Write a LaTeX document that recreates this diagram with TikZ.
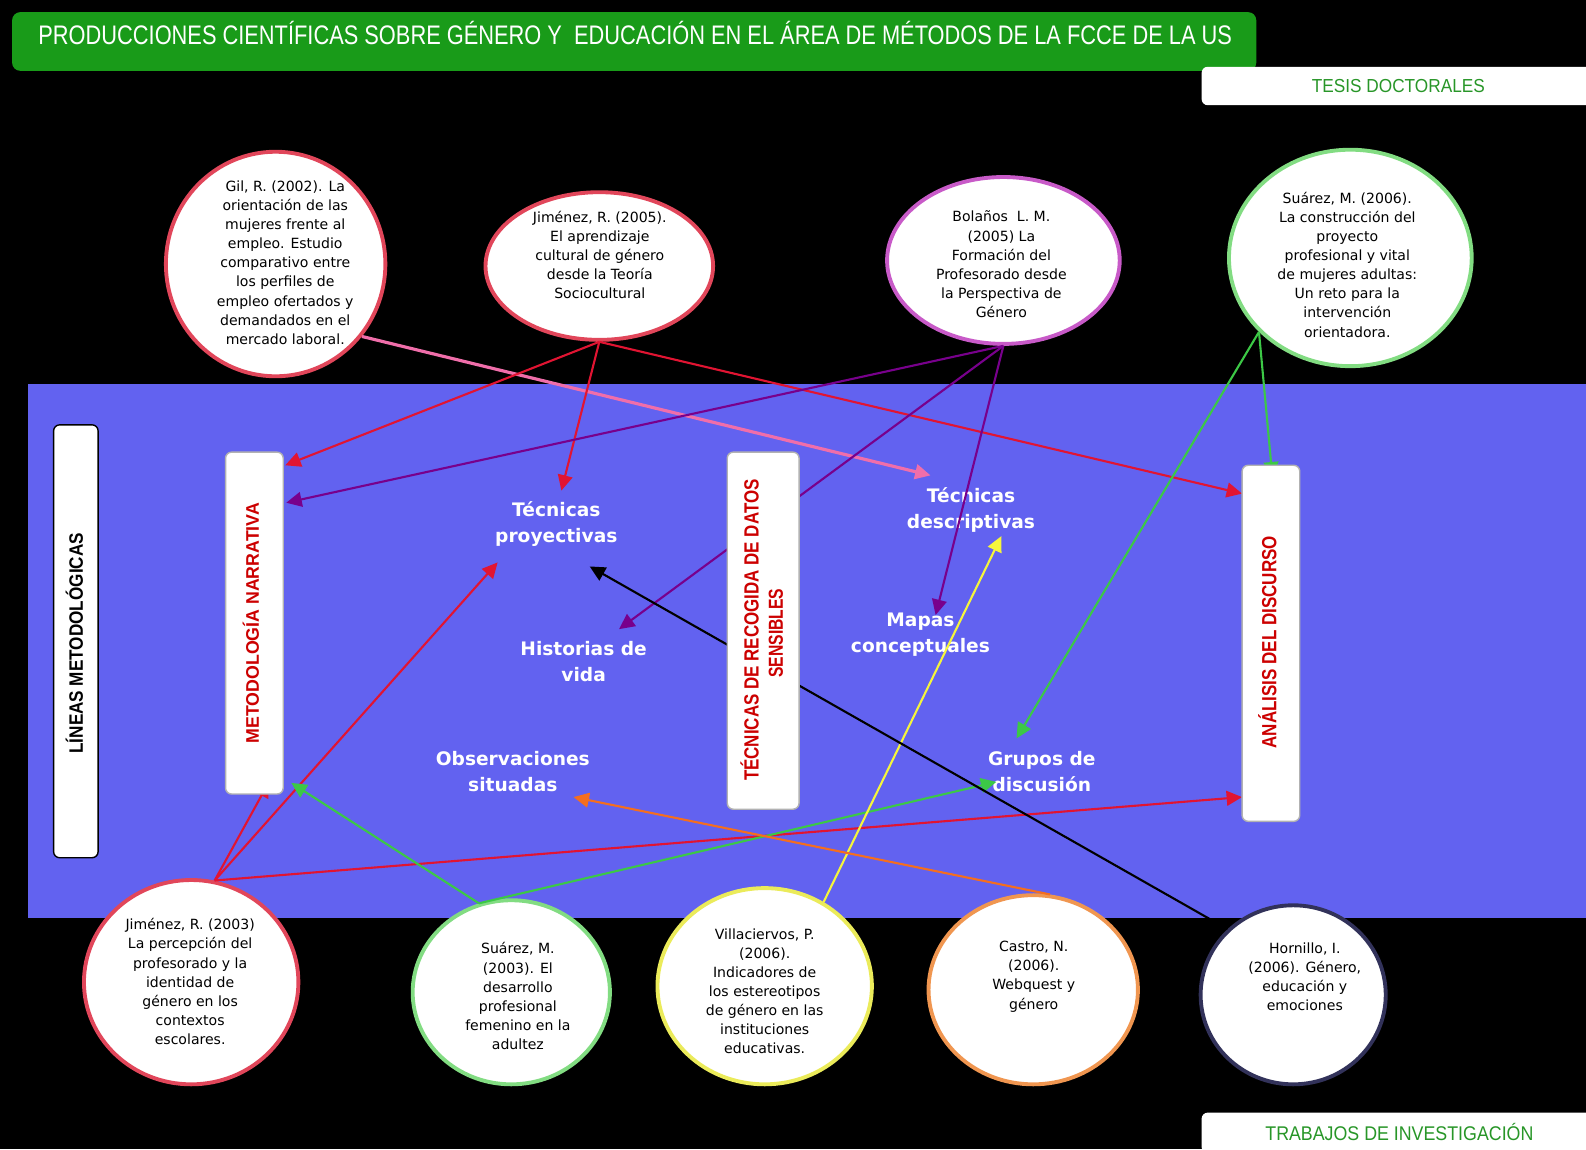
\documentclass[tikz,border=0pt]{standalone}
\usepackage{fontspec}
\usepackage{graphicx}
\setmainfont{DejaVu Sans}
\newfontfamily\libsans{Liberation Sans}
\usetikzlibrary{shapes.geometric,arrows.meta}
\newlength{\pxu}\setlength{\pxu}{0.010115cm}
\definecolor{bandblue}{RGB}{98,98,240}
\definecolor{titlegreen}{RGB}{25,155,25}
\definecolor{tgreen}{RGB}{40,150,40}
\definecolor{redtxt}{RGB}{204,0,0}
\definecolor{cred}{RGB}{225,20,50}
\definecolor{cpink}{RGB}{240,110,170}
\definecolor{cpurple}{RGB}{120,0,140}
\definecolor{cgreen}{RGB}{60,200,70}
\definecolor{cyellow}{RGB}{245,245,60}
\definecolor{corange}{RGB}{245,110,30}
\definecolor{bred}{RGB}{225,70,90}
\definecolor{bpurple}{RGB}{200,90,200}
\definecolor{bgreen}{RGB}{130,220,130}
\definecolor{byellow}{RGB}{235,235,90}
\definecolor{borange}{RGB}{240,150,80}
\definecolor{bdark}{RGB}{50,50,90}
\begin{document}
\begin{tikzpicture}[x=0.010115cm,y=-0.010115cm,
  ell/.style={ellipse,fill=white,line width=1.1pt,inner sep=0pt},
  etext/.style={font=\fontsize{4.0pt}{5.45pt}\selectfont,align=center,text=black,inner sep=0pt},
  wlabel/.style={font=\fontsize{5.3pt}{7.4pt}\selectfont\bfseries,align=center,text=white,inner sep=0pt},
  vbox/.style={fill=white,draw=gray!60,line width=0.4pt,rounded corners=6\pxu,inner sep=0pt},
  hbox/.style={fill=white,rounded corners=6\pxu,inner sep=0pt},
  conn/.style={line width=0.6pt,-{Triangle[length=4.4pt,width=4.2pt]}},
  vtext/.style={rotate=90,inner sep=0pt}]
\useasboundingbox (0,0) rectangle (1568,1136);
\fill[black] (0,0) rectangle (1568,1136);
% blue band
\fill[bandblue] (28,380) rectangle (1568,908);
% title
\node[fill=titlegreen,rounded corners=8\pxu,inner sep=0pt,minimum width=1230\pxu,minimum height=58\pxu] (titlebox) at (627,41) {};
\node[inner sep=0pt,text=white] (titletxt) at (628,32.5) {\resizebox{1180\pxu}{23\pxu}{\libsans PRODUCCIONES CIENTÍFICAS SOBRE GÉNERO Y\ \ EDUCACIÓN EN EL ÁREA DE MÉTODOS DE LA FCCE DE LA US}};
% side labels
\node[hbox,minimum width=400\pxu,minimum height=38\pxu] (tesisbox) at (1388,85) {};
\node[inner sep=0pt,text=tgreen] (tesistxt) at (1382.5,85.5) {\resizebox{171\pxu}{13\pxu}{\libsans TESIS DOCTORALES}};
\node[hbox,minimum width=400\pxu,minimum height=40\pxu] (trabbox) at (1388,1120) {};
\node[inner sep=0pt,text=tgreen] (trabtxt) at (1383.5,1119.5) {\resizebox{265\pxu}{17\pxu}{\libsans TRABAJOS DE INVESTIGACIÓN}};
% ellipses top
\node[ell,draw=bred,minimum width=217\pxu,minimum height=222\pxu] (gil) at (272.5,261) {};
\node[etext] (giltxt) at (282,259.5) {Gil, R. (2002). La\\orientación de las\\mujeres frente al\\empleo. Estudio\\comparativo entre\\los perfiles de\\empleo ofertados y\\demandados en el\\mercado laboral.};
\node[ell,draw=bred,minimum width=225\pxu,minimum height=146\pxu] (jim05) at (592.5,263) {};
\node[etext] (jim05txt) at (593,252) {Jiménez, R. (2005).\\El aprendizaje\\cultural de género\\desde la Teoría\\Sociocultural};
\node[ell,draw=bpurple,minimum width=230\pxu,minimum height=165\pxu] (bol) at (992,257.5) {};
\node[etext] (boltxt) at (990,261.5) {Bolaños\ \ L. M.\\(2005) La\\Formación del\\Profesorado desde\\la Perspectiva de\\Género};
\node[ell,draw=bgreen,minimum width=240\pxu,minimum height=214\pxu] (sua06) at (1335,255) {};
\node[etext] (sua06txt) at (1332,261.5) {Suárez, M. (2006).\\La construcción del\\proyecto\\profesional y vital\\de mujeres adultas:\\Un reto para la\\intervención\\orientadora.};
% ellipses bottom
\node[ell,draw=bred,minimum width=212\pxu,minimum height=202\pxu] (jim03) at (189,971) {};
\node[etext] (jim03txt) at (188,970.5) {Jiménez, R. (2003)\\La percepción del\\profesorado y la\\identidad de\\género en los\\contextos\\escolares.};
\node[ell,draw=bgreen,minimum width=195\pxu,minimum height=182\pxu] (sua03) at (505.5,981) {};
\node[etext] (sua03txt) at (512,985) {Suárez, M.\\(2003). El\\desarrollo\\profesional\\femenino en la\\adultez};
\node[ell,draw=byellow,minimum width=212\pxu,minimum height=194\pxu] (vil) at (756,975) {};
\node[etext] (viltxt) at (756,980) {Villaciervos, P.\\(2006).\\Indicadores de\\los estereotipos\\de género en las\\instituciones\\educativas.};
\node[ell,draw=borange,minimum width=207\pxu,minimum height=187\pxu] (cas) at (1021.5,978.5) {};
\node[etext] (castxt) at (1022,965.5) {Castro, N.\\(2006).\\Webquest y\\género};
\node[ell,draw=bdark,minimum width=183\pxu,minimum height=177\pxu] (hor) at (1278.5,983.5) {};
\node[etext] (hortxt) at (1290,965.5) {Hornillo, I.\\(2006). Género,\\educación y\\emociones};
% white labels
\node[wlabel] (tproy) at (550,518) {Técnicas\\proyectivas};
\node[wlabel] (hvida) at (577,654) {Historias de\\vida};
\node[wlabel] (obs) at (507,763) {Observaciones\\situadas};
\node[wlabel] (tdesc) at (960,504) {Técnicas\\descriptivas};
\node[wlabel] (mapas) at (910,627) {Mapas\\conceptuales};
\node[wlabel] (grupos) at (1030,763) {Grupos de\\discusión};
% arrow targets
\coordinate (t1) at (920,470);
\coordinate (t2) at (282,460);
\coordinate (t3) at (555,485);
\coordinate (t4) at (1228,488);
\coordinate (t5) at (283,497);
\coordinate (t6) at (612,622);
\coordinate (t7) at (925,608);
\coordinate (t8) at (1258,472);
\coordinate (t9) at (1005,730);
\coordinate (t10) at (266,773);
\coordinate (t11) at (492,556);
\coordinate (t12) at (1228,788);
\coordinate (t13) at (288,774);
\coordinate (t14) at (985,773);
\coordinate (t15) at (990,530);
\coordinate (t16) at (567,788);
\coordinate (t17) at (583,560);
% connectors
\draw[conn,cpink,line width=0.9pt] (gil.-40) -- (t1);
\draw[conn,cred] (jim05.-90) -- (t2);
\draw[conn,cred] (jim05.-90) -- (t3);
\draw[conn,cred] (jim05.-90) -- (t4);
\draw[conn,cpurple] (bol.-90) -- (t5);
\draw[conn,cpurple] (bol.-90) -- (t6);
\draw[conn,cpurple] (bol.-90) -- (t7);
\draw[conn,cgreen] (sua06.-141) -- (t8);
\draw[conn,cgreen] (sua06.-141) -- (t9);
\draw[conn,cred] (jim03.77) -- (t10);
\draw[conn,cred] (jim03.77) -- (t11);
\draw[conn,cred] (jim03.77) -- (t12);
\draw[conn,cgreen] (sua03.110) -- (t13);
\draw[conn,cgreen] (sua03.110) -- (t14);
\draw[conn,cyellow] (vil.55) -- (t15);
\draw[conn,corange] (cas.80) -- (t16);
\draw[conn,black] (hor.135) -- (t17);
% vertical boxes
\node[vbox,draw=black,minimum width=44\pxu,minimum height=428\pxu] (lineasbox) at (75,634) {};
\node[vtext,text=black] (lineastxt) at (73.5,636) {\resizebox{218\pxu}{17\pxu}{\libsans\bfseries LÍNEAS METODOLÓGICAS}};
\node[vbox,minimum width=57\pxu,minimum height=338\pxu] (metbox) at (251.5,616) {};
\node[vtext,text=redtxt] (mettxt) at (248,616) {\resizebox{238\pxu}{16\pxu}{\libsans\bfseries METODOLOGÍA NARRATIVA}};
\node[vbox,minimum width=71\pxu,minimum height=353\pxu] (tecbox) at (754.5,623.5) {};
\node[vtext,text=redtxt] (tectxt) at (741,623) {\resizebox{298\pxu}{18\pxu}{\libsans\bfseries TÉCNICAS DE RECOGIDA DE DATOS}};
\node[vtext,text=redtxt] (tectxtb) at (767,626) {\resizebox{88\pxu}{14\pxu}{\libsans\bfseries SENSIBLES}};
\node[vbox,minimum width=57\pxu,minimum height=352\pxu] (anabox) at (1256.5,636) {};
\node[vtext,text=redtxt] (anatxt) at (1253,635) {\resizebox{210\pxu}{18\pxu}{\libsans\bfseries ANÁLISIS DEL DISCURSO}};
\end{tikzpicture}
\end{document}
